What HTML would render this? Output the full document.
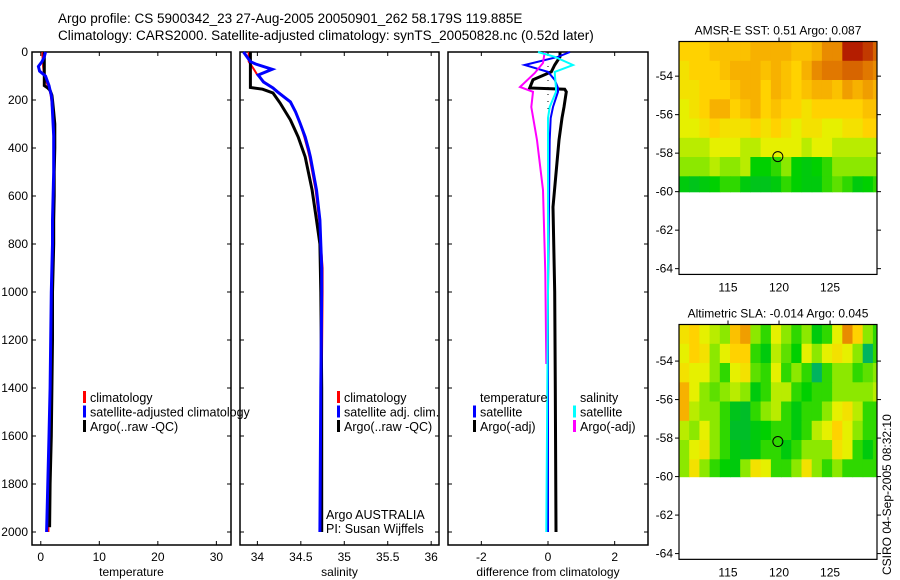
<!DOCTYPE html>
<html><head><meta charset="utf-8">
<style>
html,body{margin:0;padding:0;background:#fff;}
svg{display:block;font-family:"Liberation Sans",sans-serif;}
text{fill:#000;}
</style></head>
<body>
<svg id="chart" width="900" height="580" viewBox="0 0 900 580" xmlns="http://www.w3.org/2000/svg">
<defs>
<clipPath id="clipSst"><rect x="679" y="41.5" width="198" height="160"/></clipPath>
<clipPath id="clipSla"><rect x="679" y="324.5" width="198" height="160"/></clipPath>
</defs>
<text x="58" y="23" font-size="13.5">Argo profile: CS 5900342_23 27-Aug-2005 20050901_262 58.179S 119.885E</text>
<text x="58" y="40" font-size="13.5">Climatology: CARS2000. Satellite-adjusted climatology: synTS_20050828.nc (0.52d later)</text>
<text transform="translate(891,575) rotate(-90)" font-size="12">CSIRO 04-Sep-2005 08:32:10</text>
<g id="g"></g>
</svg>
<script>
// ---- profile data ----
const depthClim = [0,20,40,60,80,100,120,140,160,180,200,250,300,350,400,500,600,700,800,900,1000,1200,1400,1600,1800,2000];
const tempClim  = [0.3,0.3,0.4,0.4,0.5,0.7,0.9,1.2,1.5,1.7,1.8,2.0,2.2,2.3,2.3,2.3,2.2,2.1,2.1,2.0,1.9,1.8,1.7,1.6,1.4,1.3];
const tempSat   = [0.8,0.6,0.2,-0.4,-0.2,0.8,1.1,1.4,1.6,1.8,1.9,2.0,2.1,2.2,2.2,2.2,2.1,2.0,2.0,1.9,1.8,1.7,1.6,1.4,1.2,1.0];
const depthArgo = [0,20,40,60,80,100,120,140,150,160,180,200,250,300,350,400,500,600,700,800,900,1000,1200,1400,1600,1800,1980];
const tempArgo  = [0.6,0.6,0.6,0.6,0.6,0.6,0.6,0.6,1.2,1.6,1.9,2.0,2.2,2.4,2.4,2.4,2.3,2.3,2.2,2.2,2.1,2.0,2.0,1.9,1.8,1.6,1.5];
const depthSal  = [0,40,50,72,96,125,150,166,208,250,296,354,408,437,575,700,900,1000,1400,2000];
const salClim   = [33.90,33.90,33.92,33.96,34.00,34.08,34.18,34.24,34.38,34.44,34.49,34.54,34.58,34.60,34.67,34.71,34.75,34.75,34.74,34.74];
const salSat    = [33.84,33.92,33.98,34.17,34.01,34.07,34.18,34.23,34.38,34.44,34.49,34.55,34.59,34.61,34.68,34.72,34.74,34.74,34.73,34.72];
const depthSalA = [0,40,80,120,148,155,171,212,283,354,437,575,700,800,1000,1400,2000];
const salArgo   = [33.92,33.92,33.92,33.92,33.92,34.06,34.18,34.26,34.38,34.47,34.55,34.63,34.68,34.72,34.73,34.74,34.74];
// ---- difference data ----
const depthDiff   = [0,20,54,83,116,150,155,166,229,275,367,646,1000,1400,2000];
const dTempSat    = [0.66,0.3,-0.7,0.0,0.2,0.3,0.3,0.3,0.15,0.08,0.05,0.03,0.0,0.0,0.0];
const dTempArgo   = [0.36,0.36,0.2,0.1,-0.45,-0.55,0.5,0.55,0.48,0.42,0.33,0.15,0.2,0.22,0.24];
const dSalSat     = [-0.3,0.2,0.75,0.2,0.22,0.24,0.24,0.24,0.05,0.0,0.0,0.0,0.0,-0.02,-0.05];
const depthDiffS  = [0,46,88,146,166,229,367,575,920,1300];
const dSalArgo    = [-0.1,-0.15,-0.4,-0.84,-0.45,-0.5,-0.33,-0.15,-0.08,-0.05];
// ---- axis ticks ----
const depthTicks = [0,200,400,600,800,1000,1200,1400,1600,1800,2000];
const tempTicks = [0,10,20,30];
const salTicks = [34,34.5,35,35.5,36];
const diffTicks = [-2,0,2];
const lonTicks = [115,120,125];
const latTicks = [-54,-56,-58,-60,-62,-64];
// ---- maps (rows north->south, 1 deg each from -52.2, cols 1 deg from 110.2) ----
const sstGrid = [
[.5,.5,.5,.55,.55,.55,.55,.6,.6,.6,.6,.55,.55,.6,.7,.7,.95,.95,.9,.8],
[.45,.5,.5,.5,.55,.6,.6,.6,.55,.6,.55,.5,.6,.7,.75,.75,.8,.8,.75,.7],
[.45,.45,.5,.5,.5,.55,.6,.6,.5,.6,.55,.5,.55,.6,.6,.55,.65,.6,.65,.6],
[.4,.45,.5,.6,.6,.5,.55,.6,.5,.55,.5,.5,.45,.5,.5,.5,.5,.5,.55,.55],
[.4,.4,.45,.5,.45,.45,.45,.5,.45,.5,.45,.4,.45,.45,.4,.4,.45,.45,.5,.5],
[.35,.35,.35,.4,.4,.4,.35,.35,.4,.4,.4,.4,.35,.4,.4,.35,.35,.35,.35,.35],
[.3,.3,.3,.35,.3,.3,.35,.15,.15,.2,.3,.15,.1,.15,.2,.3,.3,.3,.3,.3],
[.1,.05,.1,.15,.2,.2,.1,.05,.05,.1,.2,.15,.1,.1,.2,.25,.2,.1,.15,.2]];
const slaGrid = [
[.45,.5,.4,.35,.3,.55,.65,.3,.2,.4,.3,.2,.3,.1,.2,.4,.7,.5,.3,.2],
[.4,.5,.45,.3,.4,.5,.5,.2,.1,.35,.25,.15,.4,.3,.4,.45,.4,.3,-.1,.2],
[.45,.4,.4,.3,.2,.4,.45,.25,.2,.4,.2,.3,.2,-.1,.2,.3,.3,.2,.25,.3],
[.6,.4,.3,.25,.3,.35,.3,.1,.2,.35,.35,.2,.15,.2,.2,.3,.3,.3,.3,.35],
[.6,.35,.3,.3,.2,.05,0,.2,.3,.35,.2,.1,.2,.2,.3,.4,.45,.35,.2,.2],
[.35,.3,.4,.3,.2,0,0,.1,.15,.2,.2,.1,.2,.35,.4,.5,.4,.3,.2,.2],
[.3,.4,.45,.3,.2,.1,.05,.1,.2,.2,.1,.2,.3,.3,.3,.45,.4,.2,.1,.2],
[.3,.45,.3,.2,.15,.1,.3,.45,.4,.2,.2,.3,.45,.3,.2,.3,.2,.2,.2,.2]];
const argoLon = 119.885, argoLat = -58.179;

const NS="http://www.w3.org/2000/svg";
const G=document.getElementById('g');
function el(tag,attrs,parent){const e=document.createElementNS(NS,tag);for(const k in attrs)e.setAttribute(k,attrs[k]);(parent||G).appendChild(e);return e;}
function txt(x,y,s,anchor,size,name){const t=el('text',{x:x,y:y,'font-size':size||12,'text-anchor':anchor||'start'});t.textContent=s;


return t;}

const plotTop=52, yScale=0.24, plotBottom=545;
const yD=d=>plotTop+d*yScale;
function panel(x0,x1,name,xmin,xmax,ticks,fmt,xlabel,leftLabels){
  const grp=el('g',{});
  
  
  const xs=v=>x0+(v-xmin)/(xmax-xmin)*(x1-x0);
  el('rect',{x:x0,y:plotTop,width:x1-x0,height:plotBottom-plotTop,fill:'none',stroke:'#000','stroke-width':1.5},grp);
  ticks.forEach(v=>{const X=xs(v);
    el('line',{x1:X,x2:X,y1:plotTop,y2:plotTop+4,stroke:'#000'},grp);
    el('line',{x1:X,x2:X,y1:plotBottom,y2:plotBottom-4,stroke:'#000'},grp);
    grp.appendChild(txt(X,561,fmt(v),'middle',12,'x-tick-label'));});
  depthTicks.forEach(d=>{const Y=yD(d);
    el('line',{x1:x0,x2:x0+4,y1:Y,y2:Y,stroke:'#000'},grp);
    el('line',{x1:x1,x2:x1-4,y1:Y,y2:Y,stroke:'#000'},grp);
    if(leftLabels) grp.appendChild(txt(x0-4,Y+4,String(d),'end',12,'y-tick-label'));});
  grp.appendChild(txt((x0+x1)/2,576,xlabel,'middle',12,'x-axis-title'));
  return {grp,xs};
}
function series(p,xv,dv,color,w,name){
  const pts=xv.map((v,i)=>p.xs(v).toFixed(1)+','+yD(dv[i]).toFixed(1)).join(' ');
  const l=el('polyline',{points:pts,fill:'none',stroke:color,'stroke-width':w,'stroke-linejoin':'miter'},p.grp);
  
  
}
function legend(p,x,y,items,name){
  const g=el('g',{},p.grp);
  
  
  items.forEach((it,i)=>{const Y=y+i*14.5;
    if(it[1]) el('rect',{x:x,y:Y-11,width:3,height:12,fill:it[1]},g);
    g.appendChild(txt(x+7,Y,it[0],'start',12.5,'legend-entry'));});
}
// panel 1 temperature
const p1=panel(32,231,'temperature-panel',-1.5,32.5,tempTicks,v=>String(v),'temperature',true);
series(p1,tempClim,depthClim,'#f00',2,'temp-climatology-line');
series(p1,tempArgo,depthArgo,'#000',3,'temp-argo-line');
series(p1,tempSat,depthClim,'#00f',3,'temp-satellite-line');
legend(p1,83,402,[['climatology','#f00'],['satellite-adjusted climatology','#00f'],['Argo(..raw -QC)','#000']],'temperature-legend');
// panel 2 salinity
const p2=panel(240,439,'salinity-panel',33.8,36.09,salTicks,v=>String(v),'salinity',false);
series(p2,salClim,depthSal,'#f00',2,'sal-climatology-line');
series(p2,salArgo,depthSalA,'#000',3,'sal-argo-line');
series(p2,salSat,depthSal,'#00f',3,'sal-satellite-line');
legend(p2,337,402,[['climatology','#f00'],['satellite adj. clim.','#00f'],['Argo(..raw -QC)','#000']],'salinity-legend');
p2.grp.appendChild(txt(326,519,'Argo AUSTRALIA','start',12.5,'argo-agency-label'));
p2.grp.appendChild(txt(326,533,'PI: Susan Wijffels','start',12.5,'pi-label'));
// panel 3 difference
const p3=panel(448,648,'difference-panel',-3,3,diffTicks,v=>String(v),'difference from climatology',false);
el('line',{x1:p3.xs(0),x2:p3.xs(0),y1:plotTop,y2:yD(2000),stroke:'#000','stroke-dasharray':'1,6'},p3.grp);
series(p3,dTempArgo,depthDiff,'#000',3,'diff-temp-argo-line');
series(p3,dTempSat,depthDiff,'#00f',2,'diff-temp-satellite-line');
series(p3,dSalArgo,depthDiffS,'#f0f',2,'diff-sal-argo-line');
series(p3,dSalSat,depthDiff,'#0ff',2,'diff-sal-satellite-line');
legend(p3,473,402,[['temperature',null],['satellite','#00f'],['Argo(-adj)','#000']],'diff-temperature-legend');
legend(p3,573,402,[['salinity',null],['satellite','#0ff'],['Argo(-adj)','#f0f']],'diff-salinity-legend');

// colormap
const stops=[[-0.2,[0,170,150]],[0,[0,190,40]],[0.15,[0,208,0]],[0.3,[140,232,0]],[0.4,[230,240,0]],[0.5,[255,210,0]],[0.62,[245,170,0]],[0.75,[225,120,0]],[0.88,[200,70,0]],[1,[165,0,0]]];
function cmap(v){if(v<=stops[0][0])return 'rgb('+stops[0][1]+')';
 for(let i=1;i<stops.length;i++){if(v<=stops[i][0]){const a=stops[i-1],b=stops[i],t=(v-a[0])/(b[0]-a[0]);
  return 'rgb('+a[1].map((c,k)=>Math.round(c+(b[1][k]-c)*t)).join(',')+')';}}
 return 'rgb('+stops[stops.length-1][1]+')';}
function drawMap(yTop,latTop,name,title,grid,clipId){
  const g=el('g',{});
  
  
  const cg=el('g',{'clip-path':'url(#'+clipId+')'},g);
  const x0=679,x1=877,lon0=110.2,lon1=129.6;
  const lx=l=>x0+(l-lon0)/(lon1-lon0)*(x1-x0);
  const ly=l=>yTop+(latTop-l)*19.25;
  const bot=ly(-64.3);
  grid.forEach((row,r)=>row.forEach((v,c)=>{
    const la=latTop-r, lb=Math.max(latTop-r-1,-60);
    const cell=el('rect',{x:lx(lon0+c).toFixed(1),y:ly(la).toFixed(1),width:(lx(lon0+c+1)-lx(lon0+c)+0.6).toFixed(1),height:(ly(lb)-ly(la)+0.6).toFixed(1),fill:cmap(v)},cg);
    
    
  }));
  el('rect',{x:x0,y:yTop,width:x1-x0,height:bot-yTop,fill:'none',stroke:'#000','stroke-width':1.2},g);
  lonTicks.forEach(l=>{const X=lx(l);
    el('line',{x1:X,x2:X,y1:yTop,y2:yTop-4,stroke:'#000'},g);
    g.appendChild(txt(X,bot+17,String(l),'middle',12,'lon-tick-label'));});
  latTicks.forEach(l=>{const Y=ly(l);
    el('line',{x1:x0,x2:x0-4,y1:Y,y2:Y,stroke:'#000'},g);
    el('line',{x1:x1,x2:x1+4,y1:Y,y2:Y,stroke:'#000'},g);
    g.appendChild(txt(x0-6,Y+4,String(l),'end',12,'lat-tick-label'));});
  const c=el('circle',{cx:lx(argoLon),cy:ly(argoLat),r:5,fill:'none',stroke:'#000','stroke-width':1},g);
  
  
  g.appendChild(txt(778,yTop-7,title,'middle',12,'map-title'));
}
drawMap(41.5,-52.2,'sst-map','AMSR-E SST: 0.51  Argo: 0.087',sstGrid,'clipSst');
drawMap(324.5,-52.1,'sla-map','Altimetric SLA: -0.014  Argo: 0.045',slaGrid,'clipSla');
</script>
</body></html>
